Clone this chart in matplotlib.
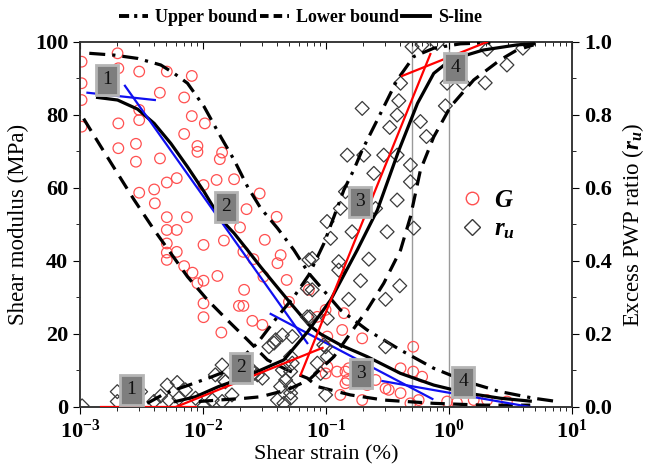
import numpy as np
import matplotlib
matplotlib.use("Agg")
import matplotlib.pyplot as plt
from matplotlib.lines import Line2D
from matplotlib.ticker import FixedLocator, FixedFormatter, LogLocator, NullFormatter, MultipleLocator

plt.rcParams['font.family'] = 'Liberation Serif'
plt.rcParams['font.weight'] = 'bold'
plt.rcParams['mathtext.fontset'] = 'custom'
plt.rcParams['mathtext.rm'] = 'Liberation Serif:bold'
plt.rcParams['mathtext.it'] = 'Liberation Serif:italic:bold'
plt.rcParams['mathtext.bf'] = 'Liberation Serif:bold'

# --- datos ---
# modulo de corte G (MPa) vs deformacion (%)
G_strain = [0.00103, 0.00202, 0.00205, 0.00303, 0.00103, 0.00103, 0.00103, 0.00446, 0.00508, 0.00811,
            0.00703, 0.00303, 0.00303, 0.00205, 0.00811, 0.01035, 0.00703, 0.00901, 0.00901, 0.0143,
            0.00205, 0.00285, 0.00285, 0.00447, 0.0137, 0.00508, 0.00612, 0.00401, 0.00303, 0.0101,
            0.0129, 0.0179, 0.0289, 0.00406, 0.00508, 0.0074, 0.0226, 0.0397,
            0.00508, 0.00612, 0.00508, 0.00508, 0.00612, 0.00508, 0.0101, 0.00703, 0.00822, 0.00901,
            0.0101, 0.0131, 0.0101, 0.0101, 0.0141, 0.020, 0.0148, 0.0213, 0.0257, 0.0318,
            0.0428, 0.0403, 0.0479, 0.031, 0.0216, 0.0196, 0.0213, 0.0252, 0.0304, 0.050,
            0.0726, 0.0993, 0.085, 0.1355, 0.197, 0.1025, 0.1025, 0.0993, 0.144, 0.144,
            0.216, 0.305, 0.253, 0.404, 0.512, 0.512, 0.605, 0.404, 0.486, 0.567,
            0.197, 0.131, 0.966, 1.16, 1.59, 2.04, 2.96, 0.123, 0.153, 0.149, 0.324, 0.140]
G_val = [94.6, 96.9, 92.8, 91.9, 88.7, 84.1, 76.8, 86.1, 91.9, 90.7,
         84.8, 81.4, 78.6, 77.7, 79.7, 77.7, 74.8, 71.5, 69.9, 69.7,
         70.9, 72.1, 67.2, 68.1, 67.9, 61.5, 62.7, 59.6, 58.7, 60.8,
         62.2, 62.4, 58.5, 55.8, 52.0, 52.0, 54.2, 52.1,
         48.5, 48.5, 44.8, 42.3, 42.5, 40.3, 44.4, 38.6, 36.8, 33.9,
         34.6, 35.9, 28.4, 24.6, 20.4, 49.2, 45.6, 42.5, 40.5, 45.8,
         41.6, 39.4, 34.8, 35.7, 32.1, 27.7, 27.7, 23.6, 22.5, 28.8,
         32.1, 26.6, 24.7, 21.1, 18.8, 19.3, 11.0, 9.2, 9.7, 6.5,
         6.0, 5.1, 7.4, 10.6, 16.5, 9.7, 8.3, 3.8, 1.0, 1.9,
         1.9, 3.3, 1.5, 1.2, 1.9, 1.9, 1.5, 9.7, 10.6, 7.4, 4.7, 25.7]

# razon de presion de poros r_u vs deformacion (%)
ru_strain = [0.501, 0.604, 0.80, 0.404, 0.197, 0.391, 0.379, 0.330, 0.586, 0.656,
             0.966, 0.935, 1.30, 1.97, 2.96, 3.99, 2.04,
             0.149, 0.203, 0.295, 0.379, 0.245, 0.486, 0.486, 0.144, 0.379, 0.253, 0.131,
             0.102, 0.109, 0.163, 0.314, 0.517, 0.0773, 0.127, 0.127, 0.223, 0.191,
             0.398, 0.153, 0.305, 0.0773, 0.074, 0.305, 0.0993, 0.1025, 0.0904, 0.0993,
             0.1025, 0.0378, 0.0442, 0.0532, 0.096, 0.085, 0.0532, 0.0442, 0.047, 0.0516,
             0.0516, 0.0277, 0.0304, 0.0252, 0.0344, 0.039, 0.0516, 0.0516, 0.0428, 0.0516,
             0.0403, 0.0726, 0.0705, 0.0705, 0.0455,
             0.00104, 0.00201, 0.00201, 0.00311, 0.00512, 0.00617, 0.00452, 0.00527, 0.00721, 0.00637,
             0.0087, 0.0101, 0.0143, 0.0126, 0.0152, 0.0143, 0.00399, 0.0119, 0.0148, 0.026, 0.0172]
ru_val = [0.987, 0.992, 0.996, 0.887, 0.818, 0.839, 0.800, 0.766, 0.782, 0.741,
          0.887, 0.825, 0.887, 0.888, 0.937, 0.983, 0.980,
          0.690, 0.690, 0.690, 0.690, 0.640, 0.663, 0.617, 0.590, 0.567, 0.544, 0.544,
          0.508, 0.462, 0.480, 0.480, 0.490, 0.407, 0.398, 0.375, 0.405, 0.346,
          0.332, 0.295, 0.295, 0.321, 0.247, 0.165, 0.165, 0.138, 0.092, 0.033,
          0.243, 0.175, 0.197, 0.193, 0.170, 0.120, 0.120, 0.101, 0.074, 0.056,
          0.024, 0.088, 0.079, 0.101, 0.165, 0.184, 0.138, 0.097, 0.056, 0.038,
          0.019, 0.403, 0.325, 0.247, 0.010,
          0.003, 0.042, 0.015, 0.042, 0.060, 0.067, 0.030, 0.019, 0.047, 0.024,
          0.024, 0.001, 0.115, 0.088, 0.069, 0.015, 0.015, 0.019, 0.074, 0.092, 0.033]

# curvas de G
G_ub_x = [0.00119, 0.0019, 0.00294, 0.00454, 0.00582, 0.00748, 0.0102, 0.0139, 0.0179, 0.023, 0.0294,
          0.0403, 0.0549, 0.0726, 0.131, 0.216, 0.404, 0.752, 1.40, 2.61, 4.87, 7.54]
G_ub = [96.9, 96.4, 95.5, 93.7, 91.4, 88.7, 82.3, 74.1, 67.7, 60.4, 54.5,
        49.0, 43.0, 36.6, 26.6, 21.1, 15.6, 10.6, 6.9, 4.2, 2.4, 1.5]
G_lb_x = [0.00107, 0.00148, 0.00202, 0.00276, 0.00401, 0.00548, 0.00748, 0.0109, 0.0158, 0.023,
          0.0334, 0.0485, 0.0705, 0.085, 0.158, 0.295, 0.752, 1.91, 4.58]
G_lb = [79.0, 71.3, 64.0, 56.7, 48.5, 42.1, 35.7, 29.3, 23.8, 18.4,
        12.9, 10.1, 7.9, 5.6, 3.3, 1.9, 1.0, 0.5, 0.5]
G_s_x = [0.00139, 0.00202, 0.00294, 0.00401, 0.00548, 0.00748, 0.0102, 0.0139, 0.0179, 0.023, 0.0294,
         0.0378, 0.0516, 0.0726, 0.0904, 0.131, 0.216, 0.404, 0.752, 1.40, 2.61, 4.58]
G_s = [84.8, 84.1, 81.6, 77.7, 72.2, 65.8, 59.0, 51.5, 47.6, 43.0, 38.4,
       33.9, 28.4, 22.5, 20.0, 17.0, 13.8, 9.2, 6.0, 3.8, 2.4, 1.6]

# tramos lineales (azul: G, rojo: r_u)
blue_x = [[0.00115, 0.00406], [0.00232, 0.0705], [0.0355, 0.733], [0.288, 4.58]]
blue_y = [[86.1, 84.1], [88.0, 17.5], [25.5, 2.2], [7.1, 0.0]]
red_x = [[0.00147, 0.0087], [0.00601, 0.0938], [0.0622, 0.706], [0.416, 2.04]]
red_y = [[0.0, 0.0], [0.0, 0.162], [0.088, 0.967], [0.907, 1.0]]

# curvas de r_u
ru_s_x = [0.00598, 0.00869, 0.0134, 0.0172, 0.0294, 0.0455, 0.0705, 0.109, 0.1795, 0.262,
          0.388, 0.555, 0.752, 1.03, 1.90, 3.57, 4.87]
ru_s = [0.015, 0.028, 0.056, 0.069, 0.101, 0.129, 0.205, 0.293, 0.430, 0.540,
        0.700, 0.832, 0.914, 0.951, 0.978, 0.992, 0.995]
ru_ub_x = [0.00352, 0.00497, 0.00767, 0.01186, 0.0162, 0.0277, 0.0403, 0.0549, 0.0726, 0.0962,
           0.116, 0.140, 0.168, 0.197, 0.261, 0.379, 0.517, 0.752, 1.24, 2.17]
ru_ub = [0.010, 0.038, 0.060, 0.083, 0.101, 0.175, 0.247, 0.302, 0.362, 0.448,
         0.521, 0.595, 0.649, 0.704, 0.786, 0.896, 0.960, 0.983, 0.995, 0.998]
ru_lb_x = [0.00925, 0.0134, 0.0221, 0.0294, 0.0485, 0.0726, 0.116, 0.158, 0.216, 0.295,
           0.404, 0.486, 0.586, 0.752, 1.03, 1.59, 2.61, 3.57, 4.87]
ru_lb = [0.015, 0.019, 0.024, 0.028, 0.047, 0.074, 0.138, 0.202, 0.266, 0.339,
         0.430, 0.521, 0.649, 0.740, 0.823, 0.896, 0.951, 0.978, 0.992]

# etiquetas de tramos
G_tags = [("1", 0.00166, 89.6), ("2", 0.01545, 54.8), ("3", 0.193, 9.2), ("4", 1.31, 6.9)]
ru_tags = [("1", 0.00262, 0.047), ("2", 0.0203, 0.107), ("3", 0.189, 0.562), ("4", 1.127, 0.930)]

x_ticks = [1e-3, 1e-2, 1e-1, 1e0, 1e1]
x_ticklabels = [r"$10^{-3}$", r"$10^{-2}$", r"$10^{-1}$", r"$10^{0}$", r"$10^{1}$"]

UB = (0, (5, 2.2, 1, 2.2))
LB = (0, (4.5, 2.6))
LW = 2.3

fig = plt.figure(figsize=(6.53, 4.75), dpi=100)
ax = fig.add_axes([0.1225, 0.1432, 0.7534, 0.7684])
ax2 = ax.twinx()

for v in (0.5, 1.0):
    ax.axvline(v, color="#9a9a9a", lw=1.0, zorder=1)

ax.scatter(G_strain, G_val, s=58, facecolors="none", edgecolors="#ff5050", linewidths=0.9, zorder=2)
ax.plot(G_ub_x, G_ub, color="k", lw=LW, ls=UB, zorder=3)
ax.plot(G_lb_x, G_lb, color="k", lw=LW, ls=LB, zorder=3)
ax.plot(G_s_x, G_s, color="k", lw=LW, zorder=3)
for xs, ys in zip(blue_x, blue_y):
    ax.plot(xs, ys, color="#1010f0", lw=1.6, zorder=4)

ax2.scatter(ru_strain, ru_val, s=50, marker="D", facecolors="none", edgecolors="#3a3a3a", linewidths=0.9, zorder=2)
ax2.plot(ru_ub_x, ru_ub, color="k", lw=LW, ls=UB, zorder=3)
ax2.plot(ru_lb_x, ru_lb, color="k", lw=LW, ls=LB, zorder=3)
ax2.plot(ru_s_x, ru_s, color="k", lw=LW, zorder=3)
for xs, ys in zip(red_x, red_y):
    ax2.plot(xs, ys, color="#ff0000", lw=1.6, zorder=4)

box = dict(boxstyle="square,pad=0.32", fc="#7e7e7e", ec="#b5b5b5", lw=2)
for s, x, y in G_tags:
    ax.text(x, y, s, ha="center", va="center", fontsize=14, fontweight="normal",
            color="#111111", bbox=box, zorder=6)
for s, x, y in ru_tags:
    ax2.text(x, y, s, ha="center", va="center", fontsize=14, fontweight="normal",
             color="#111111", bbox=box, zorder=6)

ax.set_xscale("log")
ax.set_xlim(1e-3, 1e1)
ax.set_ylim(0, 100)
ax2.set_ylim(0, 1)

ax.xaxis.set_major_locator(FixedLocator(x_ticks))
ax.xaxis.set_major_formatter(FixedFormatter(x_ticklabels))
ax.xaxis.set_minor_locator(LogLocator(base=10, subs=np.arange(2, 10)))
ax.xaxis.set_minor_formatter(NullFormatter())
ax.yaxis.set_major_locator(MultipleLocator(20))
ax.yaxis.set_minor_locator(MultipleLocator(10))
ax2.yaxis.set_major_locator(MultipleLocator(0.2))
ax2.yaxis.set_minor_locator(MultipleLocator(0.1))
ax2.yaxis.set_major_formatter(matplotlib.ticker.FormatStrFormatter("%.1f"))

ax.tick_params(axis="x", which="both", direction="out", top=False, labelsize=16, pad=4)
ax.tick_params(axis="x", which="major", length=5)
ax.tick_params(axis="x", which="minor", length=3)
ax.tick_params(axis="y", which="both", direction="out", labelsize=16)
ax.tick_params(axis="y", which="major", length=5)
ax.tick_params(axis="y", which="minor", length=3)
ax2.tick_params(axis="y", which="both", direction="out", labelsize=16)
ax2.tick_params(axis="y", which="major", length=5)
ax2.tick_params(axis="y", which="minor", length=3)
# marcas superiores hacia adentro
ax2.xaxis.set_visible(True)
ax2.tick_params(axis="x", which="both", direction="in", top=True, bottom=False,
                labeltop=False, labelbottom=False)
ax2.tick_params(axis="x", which="major", length=5)
ax2.tick_params(axis="x", which="minor", length=3)

for a in (ax, ax2):
    for sp in a.spines.values():
        sp.set_color("#333333")
        sp.set_linewidth(1.1)

ax.set_xlabel("Shear strain (%)", fontsize=16, labelpad=2)
ax.set_ylabel("Shear modulus (MPa)", fontsize=16.5, labelpad=4)
ax2.set_ylabel(r"Excess PWP ratio ($r_u$)", fontsize=16.5, labelpad=6)

handles = [Line2D([], [], color="k", lw=2.8, ls=(0, (2.6, 1.3, 0.8, 1.3))),
           Line2D([], [], color="k", lw=2.8, ls=(0, (2.2, 1.3))),
           Line2D([], [], color="k", lw=2.8)]
fig.legend(handles, ["Upper bound", "Lower bound", "S-line"], loc="center",
           bbox_to_anchor=(0.46, 0.963), ncol=3, frameon=False, fontsize=13,
           handlelength=1.6, handletextpad=0.4, columnspacing=0.15)

mk = [Line2D([], [], ls="none", marker="o", ms=9, mfc="none", mec="#ff5050", mew=1.0),
      Line2D([], [], ls="none", marker="D", ms=8, mfc="none", mec="#3a3a3a", mew=1.0)]
ax2.legend(mk, [r"$G$", r"$r_u$"], loc="upper left", bbox_to_anchor=(0.72, 0.66),
           frameon=False, fontsize=18, handletextpad=0.3, labelspacing=0.25, handlelength=1.2)

fig.savefig("out.png", dpi=100)
